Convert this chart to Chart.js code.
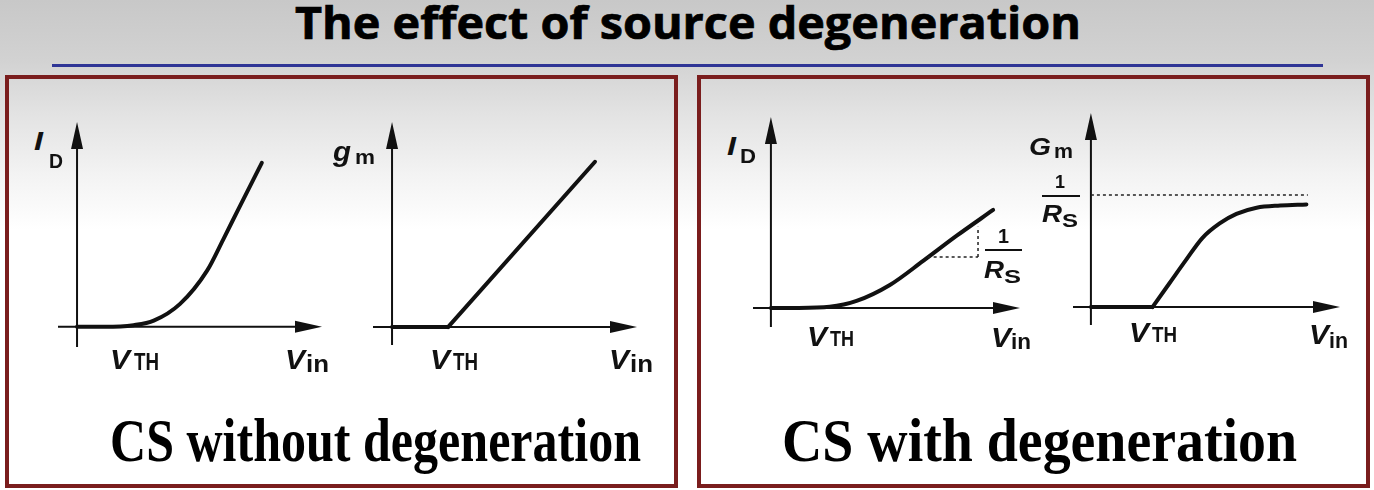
<!DOCTYPE html>
<html><head><meta charset="utf-8">
<script src="https://cdn.jsdelivr.net/npm/chart.js@4.4.1/dist/chart.umd.min.js"></script>
<style>
html,body{margin:0;padding:0;}
body{width:1374px;height:490px;overflow:hidden;position:relative;
 background:linear-gradient(to bottom,#c8c8c8 0px,#d2d2d2 60px,#e3e3e3 115px,#f3f3f3 175px,#ffffff 230px);
 font-family:"Liberation Sans",Arial,sans-serif;}
.box{position:absolute;border:4px solid #7a1d1d;box-sizing:border-box;}
.t{position:absolute;white-space:nowrap;line-height:1;color:#111;transform-origin:0 0;font-weight:bold;}
.bar{position:absolute;background:#111;height:2px;}
canvas{position:absolute;}
</style></head><body>
<div class="t" id="title" style="font-family:'Open Sans',sans-serif;font-weight:700;font-size:44px;color:#000;-webkit-text-stroke:0.7px #000;">The effect of source degeneration</div>
<div style="position:absolute;left:52px;top:64px;width:1271px;height:3px;background:#2f3596;"></div>
<div class="box" style="left:5px;top:75px;width:673px;height:413px;"></div>
<div class="box" style="left:697px;top:75px;width:673px;height:413px;"></div>
<div class="t" id="capL" style="font-family:'Liberation Serif','Times New Roman',serif;font-size:62px;color:#000;">CS without degeneration</div>
<div class="t" id="capR" style="font-family:'Liberation Serif','Times New Roman',serif;font-size:62px;color:#000;">CS with degeneration</div>
<canvas id="c1"></canvas><canvas id="c2"></canvas><canvas id="c3"></canvas><canvas id="c4"></canvas>
<script>
// ---- data (arbitrary units, V_in on x, response on y) ----
const idNoDegX = [0, 0.5, 1.01, 1.37, 1.84, 2.32, 2.61, 2.88, 3.3];
const idNoDegY = [0, 0, 0.03, 0.11, 0.41, 1.0, 1.56, 2.1, 2.93];
const gmFlatX = [0, 1.0];
const gmFlatY = [0, 0];
const gmRiseX = [1.0, 3.625];
const gmRiseY = [0, 2.95];
const idDegX = [0, 0.5, 1.05, 1.53, 2.125, 2.72, 3.32, 3.97];
const idDegY = [0, 0, 0.02, 0.125, 0.41, 0.84, 1.29, 1.75];
const slopeHX = [2.8, 3.7];
const slopeHY = [0.91, 0.91];
const slopeVX = [3.7, 3.7];
const slopeVY = [0.91, 1.45];
const GmFlatX = [0, 1.1];
const GmFlatY = [0, 0];
const GmRiseX = [1.1, 1.4, 1.7, 1.99, 2.3, 2.6, 2.96, 3.38, 3.85];
const GmRiseY = [0, 0.42, 0.84, 1.23, 1.49, 1.66, 1.77, 1.81, 1.83];
const limitX = [0, 3.875];
const limitY = [2.0, 2.0];

const zip = (xs, ys) => xs.map((v, i) => ({x: v, y: ys[i]}));

const axesArrows = {
  id: 'axesArrows',
  beforeDatasetsDraw(chart) {
    const {ctx, scales: {x, y}} = chart;
    const x0 = x.getPixelForValue(0), y0 = y.getPixelForValue(0);
    const xa = x.getPixelForValue(x.min), xb = x.getPixelForValue(x.max);
    const ya = y.getPixelForValue(y.min), yb = y.getPixelForValue(y.max);
    const L = 27, H = 6;
    ctx.save();
    ctx.strokeStyle = '#111'; ctx.fillStyle = '#111'; ctx.lineWidth = 2;
    ctx.beginPath();
    ctx.moveTo(xa, y0); ctx.lineTo(xb - L + 2, y0);
    ctx.moveTo(x0, ya); ctx.lineTo(x0, yb + L - 2);
    ctx.stroke();
    ctx.beginPath(); ctx.moveTo(xb, y0); ctx.lineTo(xb - L, y0 - H); ctx.lineTo(xb - L, y0 + H); ctx.closePath(); ctx.fill();
    ctx.beginPath(); ctx.moveTo(x0, yb); ctx.lineTo(x0 - H, yb + L); ctx.lineTo(x0 + H, yb + L); ctx.closePath(); ctx.fill();
    ctx.restore();
  }
};

function curve(xs, ys, smooth) {
  return {data: zip(xs, ys), borderColor: '#111', borderWidth: 4, pointRadius: 0, fill: false,
    tension: 0, cubicInterpolationMode: smooth ? 'monotone' : 'default', clip: false,
    borderCapStyle: 'round', borderJoinStyle: 'round'};
}
function guide(xs, ys) {
  return {data: zip(xs, ys), borderColor: '#222', borderWidth: 1.5, borderDash: [3, 3], pointRadius: 0,
    fill: false, tension: 0, clip: false};
}

const PAD = 12;
function makeChart(id, origin, k, xr, yr, datasets) {
  const cv = document.getElementById(id);
  const w = (xr[1] - xr[0]) * k + 2 * PAD, h = (yr[1] - yr[0]) * k + 2 * PAD;
  cv.width = Math.round(w); cv.height = Math.round(h);
  cv.style.width = Math.round(w) + 'px'; cv.style.height = Math.round(h) + 'px';
  cv.style.left = Math.round(origin[0] + xr[0] * k - PAD) + 'px';
  cv.style.top = Math.round(origin[1] - yr[1] * k - PAD) + 'px';
  new Chart(cv, {
    type: 'line',
    data: {datasets},
    options: {
      responsive: false, animation: false, events: [],
      layout: {padding: PAD},
      plugins: {legend: {display: false}, tooltip: {enabled: false}},
      scales: {
        x: {type: 'linear', min: xr[0], max: xr[1], display: false},
        y: {type: 'linear', min: yr[0], max: yr[1], display: false}
      }
    },
    plugins: [axesArrows]
  });
}

makeChart('c1', [77, 327], 56, [-0.34, 4.375], [-0.36, 3.66], [curve(idNoDegX, idNoDegY, true)]);
makeChart('c2', [392, 327], 56, [-0.34, 4.375], [-0.32, 3.66], [curve(gmFlatX, gmFlatY, false), curve(gmRiseX, gmRiseY, false)]);
makeChart('c3', [771, 308], 56, [-0.32, 4.45], [-0.34, 3.41], [guide(slopeHX, slopeHY), guide(slopeVX, slopeVY), curve(idDegX, idDegY, true)]);
makeChart('c4', [1091, 307], 56, [-0.32, 4.45], [-0.32, 3.46], [guide(limitX, limitY), curve(GmFlatX, GmFlatY, false), curve(GmRiseX, GmRiseY, true)]);

// ---- axis labels ----
function lab(x, base, text, size, italic, width, center) {
  const d = document.createElement('div');
  d.className = 't';
  d.textContent = text;
  d.style.fontSize = size + 'px';
  if (italic) d.style.fontStyle = 'italic';
  document.body.appendChild(d);
  const w = d.getBoundingClientRect().width;
  const s = width / w;
  d.style.left = (center ? x - width / 2 : x) + 'px';
  d.style.top = (base - 0.8465 * size) + 'px';
  d.style.transform = 'scaleX(' + s + ')';
}
function bar(x1, x2, y) {
  const d = document.createElement('div');
  d.className = 'bar';
  d.style.left = x1 + 'px'; d.style.width = (x2 - x1) + 'px'; d.style.top = (y - 1) + 'px';
  document.body.appendChild(d);
}
// chart 1
lab(34, 150, 'I', 26, true, 9); lab(49, 168, 'D', 21, false, 14);
lab(110, 370, 'V', 28, true, 20); lab(134, 370, 'TH', 23, false, 25);
lab(285, 370, 'V', 28, true, 20); lab(306, 372, 'in', 23, false, 23);
// chart 2
lab(333, 162, 'g', 27, true, 18); lab(355, 164, 'm', 21, false, 20);
lab(430, 370, 'V', 28, true, 20); lab(453, 370, 'TH', 23, false, 25);
lab(609, 370, 'V', 28, true, 20); lab(630, 372, 'in', 23, false, 23);
// chart 3
lab(727, 155, 'I', 26, true, 9); lab(740, 163, 'D', 20, false, 16);
lab(807, 347, 'V', 27, true, 20); lab(830, 347, 'TH', 22, false, 24);
lab(991, 348, 'V', 27, true, 20); lab(1011, 350, 'in', 22, false, 20);
lab(1003, 243, '1', 21, false, 11, true); bar(985, 1022, 250);
lab(984, 278, 'R', 23, true, 20); lab(1004, 283, 'S', 19, false, 17);
// chart 4
lab(1029, 155, 'G', 24, true, 22); lab(1054, 158, 'm', 20, false, 19);
lab(1060, 188, '1', 19, false, 10, true); bar(1042, 1080, 196);
lab(1042, 222, 'R', 23, true, 20); lab(1062, 227, 'S', 19, false, 16);
lab(1129, 343, 'V', 27, true, 20); lab(1152, 343, 'TH', 22, false, 25);
lab(1309, 345, 'V', 27, true, 20); lab(1329, 349, 'in', 22, false, 19);

// ---- fit slide texts ----
function fit(id, left, right, base, asc) {
  const el = document.getElementById(id);
  const fs = parseFloat(el.style.fontSize);
  const w = el.getBoundingClientRect().width;
  el.style.left = left + 'px';
  el.style.top = (base - asc * fs) + 'px';
  el.style.transform = 'scaleX(' + ((right - left) / w) + ')';
}
fit('title', 295, 1081, 39, 0.888);
fit('capL', 110, 641, 461, 0.8375);
fit('capR', 782, 1297, 461, 0.8375);
</script>
</body></html>
